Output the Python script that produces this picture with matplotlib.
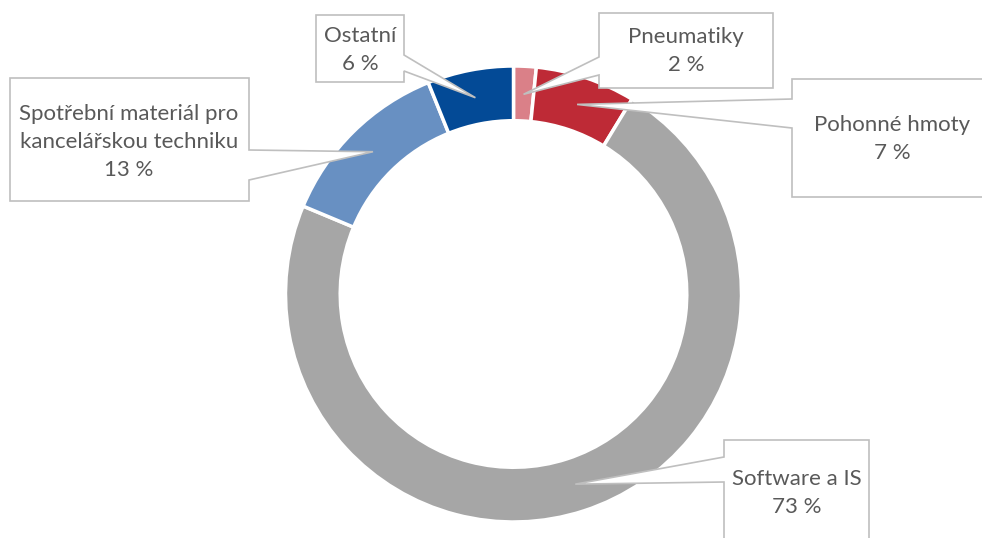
import numpy as np
import matplotlib.pyplot as plt
from matplotlib.patches import Polygon

# data
categories = ['Pneumatiky', 'Pohonné hmoty', 'Software a IS',
              'Spotřební materiál pro\nkancelářskou techniku', 'Ostatní']
values = [1.6, 7.1, 72.6, 12.6, 6.1]
colors = ['#DA8088', '#BE2A36', '#A6A6A6', '#6890C2', '#034A96']

# callout layout in pixels (left, top, right, bottom), tail side, tail y-range, text center
boxes = [
    (599, 13, 773, 88, 'left', (57, 75), (686, 51)),
    (792, 79, 992, 197, 'left', (99, 128), (892, 139)),
    (724, 440, 869, 560, 'left', (457, 482), (797, 493)),
    (10, 78, 249, 201, 'right', (150, 180), (129, 142)),
    (316, 15, 404, 82, 'right', (55, 71), (360, 50)),
]

W, H = 982, 538
cx, cy, R = 513.5, 294, 228

plt.rcParams['font.family'] = ['Lato', 'DejaVu Sans']
fig = plt.figure(figsize=(W / 100, H / 100), dpi=100)

ax = fig.add_axes([(cx - R) / W, (H - cy - R) / H, 2 * R / W, 2 * R / H])
ax.pie(values, colors=colors, startangle=90, counterclock=False, radius=1,
       wedgeprops=dict(width=0.24, edgecolor='white', linewidth=2.5))
ax.set_xlim(-1, 1)
ax.set_ylim(-1, 1)
ax.set_aspect('equal')
ax.axis('off')

# overlay for callouts, pixel coords with origin top-left
ov = fig.add_axes([0, 0, 1, 1])
ov.set_xlim(0, W)
ov.set_ylim(H, 0)
ov.axis('off')

total = sum(values)
cum = np.cumsum([0] + values)
for i, (name, v) in enumerate(zip(categories, values)):
    mid = (cum[i] + cum[i + 1]) / 2 / total * 2 * np.pi
    tip = (cx + 0.877 * R * np.sin(mid), cy - 0.877 * R * np.cos(mid))
    l, t, r, b, side, (ty1, ty2), (tx, tyc) = boxes[i]
    if side == 'left':
        pts = [(l, t), (r, t), (r, b), (l, b), (l, ty2), tip, (l, ty1)]
    else:
        pts = [(l, t), (r, t), (r, ty1), tip, (r, ty2), (r, b), (l, b)]
    ov.add_patch(Polygon(pts, closed=True, facecolor='white',
                         edgecolor='#BFBFBF', linewidth=1.2, zorder=3))
    ov.text(tx, tyc, f'{name}\n{round(v)} %', ha='center', va='center',
            fontsize=16, color='#595959', linespacing=1.5, zorder=4)

fig.savefig('out.png', dpi=100)
